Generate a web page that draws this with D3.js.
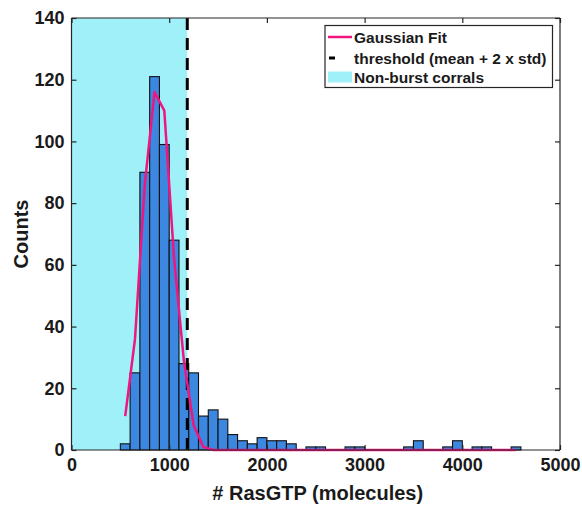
<!DOCTYPE html>
<html>
<head>
<meta charset="utf-8">
<script src="https://cdn.jsdelivr.net/npm/d3@7"></script>
<style>
  html, body { margin: 0; padding: 0; background: #fff; }
  svg { display: block; font-family: "Liberation Sans", Arial, Helvetica, sans-serif; }
</style>
</head>
<body>
<svg id="chart" width="582" height="505"></svg>
<script>
// ---- data ----
const binStarts = [500,600,700,800,900,1000,1100,1200,1300,1400,1500,1600,1700,1800,1900,
  2000,2100,2200,2300,2400,2500,2600,2700,2800,2900,3000,3100,3200,3300,3400,
  3500,3600,3700,3800,3900,4000,4100,4200,4300,4400,4500];
const binWidth = 100;
const counts = [2,25,90,121,99,68,28,25,11,13,10,5,3,2,4,
  3,3,2,0,1,1,0,0,1,1,0,0,0,0,1,
  3,0,0,1,3,0,1,1,0,0,1];
const fitX = [550,650,750,850,950,1050,1150,1250,1350,1450,1550,1650,1750,1850,1950,
  2050,2150,2250,2350,2450,2550,2650,2750,2850,2950,3050,3150,3250,3350,3450,
  3550,3650,3750,3850,3950,4050,4150,4250,4350,4450,4550];
const fitY = [11,36,86,116,110,62,29,8,1,0,0,0,0,0,0,
  0,0,0,0,0,0,0,0,0,0,0,0,0,0,0,
  0,0,0,0,0,0,0,0,0,0,0];
const threshold = 1185;
const xTicks = [0,1000,2000,3000,4000,5000];
const yTicks = [0,20,40,60,80,100,120,140];
const legendLabels = ["Gaussian Fit", "threshold (mean + 2 x std)", "Non-burst corrals"];

// ---- drawing ----
const svg = d3.select("#chart");
const L = 71.5, R = 560, T = 18, B = 450;
const x = d3.scaleLinear().domain([0,5000]).range([L,R]);
const y = d3.scaleLinear().domain([0,140]).range([B,T]);

const cyan = "#a0f0fa", barFill = "#3c87e0", pink = "#f0157f", axisCol = "#262626";

// non-burst region
svg.append("rect")
  .attr("x", x(0)).attr("y", y(140))
  .attr("width", x(threshold) - x(0)).attr("height", y(0) - y(140))
  .attr("fill", cyan);

// bars
const bins = binStarts.map((s,i) => ({s, c: counts[i]})).filter(d => d.c > 0);
svg.append("g").selectAll("rect").data(bins).join("rect")
  .attr("x", d => x(d.s)).attr("y", d => y(d.c))
  .attr("width", d => x(d.s + binWidth) - x(d.s))
  .attr("height", d => y(0) - y(d.c))
  .attr("fill", barFill).attr("stroke", "#111").attr("stroke-width", 1.1);

// threshold line
svg.append("line")
  .attr("x1", x(threshold)).attr("x2", x(threshold))
  .attr("y1", y(140)).attr("y2", y(0))
  .attr("stroke", "#000").attr("stroke-width", 3)
  .attr("stroke-dasharray", "12,8");

// gaussian fit
const line = d3.line().x((d,i) => x(fitX[i])).y(d => y(d));
svg.append("path").datum(fitY)
  .attr("d", line).attr("fill", "none")
  .attr("stroke", pink).attr("stroke-width", 2.5).attr("stroke-linejoin", "round");

// axes box
const gx = svg.append("g").attr("transform", `translate(0,${B})`)
  .call(d3.axisBottom(x).tickValues(xTicks).tickSize(-5).tickPadding(8).tickFormat(d3.format("d")));
const gxt = svg.append("g").attr("transform", `translate(0,${T})`)
  .call(d3.axisTop(x).tickValues(xTicks).tickSize(-5).tickFormat(""));
const gy = svg.append("g").attr("transform", `translate(${L},0)`)
  .call(d3.axisLeft(y).tickValues(yTicks).tickSize(-5).tickPadding(7).tickFormat(d3.format("d")));
const gyr = svg.append("g").attr("transform", `translate(${R},0)`)
  .call(d3.axisRight(y).tickValues(yTicks).tickSize(-5).tickFormat(""));
[gx,gxt,gy,gyr].forEach(g => {
  g.selectAll(".domain").attr("stroke", axisCol).attr("stroke-width", 1.2);
  g.selectAll(".tick line").attr("stroke", axisCol).attr("stroke-width", 1.2);
  g.selectAll("text").attr("fill", "#1a1a1a")
    .style("font-size", "18px").style("font-weight", "bold")
    .style("font-family", "'Liberation Sans', Arial, sans-serif");
});
// remove outer tick stubs on domain ends
[gx,gxt].forEach(g => g.select(".domain").attr("d", `M${L},0H${R}`));
[gy,gyr].forEach(g => g.select(".domain").attr("d", `M0,${T}V${B}`));

// axis labels
svg.append("text").attr("x", (L+R)/2 + 2).attr("y", 500)
  .attr("text-anchor", "middle").attr("fill", "#1a1a1a")
  .style("font-size", "20px").style("font-weight", "bold")
  .text("# RasGTP (molecules)");
svg.append("text").attr("transform", `translate(28,${(T+B)/2}) rotate(-90)`)
  .attr("text-anchor", "middle").attr("fill", "#1a1a1a")
  .style("font-size", "20px").style("font-weight", "bold")
  .text("Counts");

// legend
const lg = svg.append("g");
lg.append("rect").attr("x", 325).attr("y", 25.5).attr("width", 227.5).attr("height", 62)
  .attr("fill", "#fff").attr("stroke", axisCol).attr("stroke-width", 1.2);
const rows = [37, 58, 77];
lg.append("line").attr("x1", 328).attr("x2", 352).attr("y1", rows[0]).attr("y2", rows[0])
  .attr("stroke", pink).attr("stroke-width", 2.5);
lg.append("line").attr("x1", 329).attr("x2", 335).attr("y1", rows[1]).attr("y2", rows[1])
  .attr("stroke", "#000").attr("stroke-width", 3);
lg.append("rect").attr("x", 328).attr("y", rows[2]-5.5).attr("width", 24).attr("height", 11)
  .attr("fill", cyan);
lg.selectAll("text.lab").data(legendLabels).join("text").attr("class","lab")
  .attr("x", 354).attr("y", (d,i) => rows[i]).attr("dy", "0.36em")
  .attr("fill", "#1a1a1a")
  .style("font-size", "15.5px").style("font-weight", "bold")
  .text(d => d);
</script>
</body>
</html>
